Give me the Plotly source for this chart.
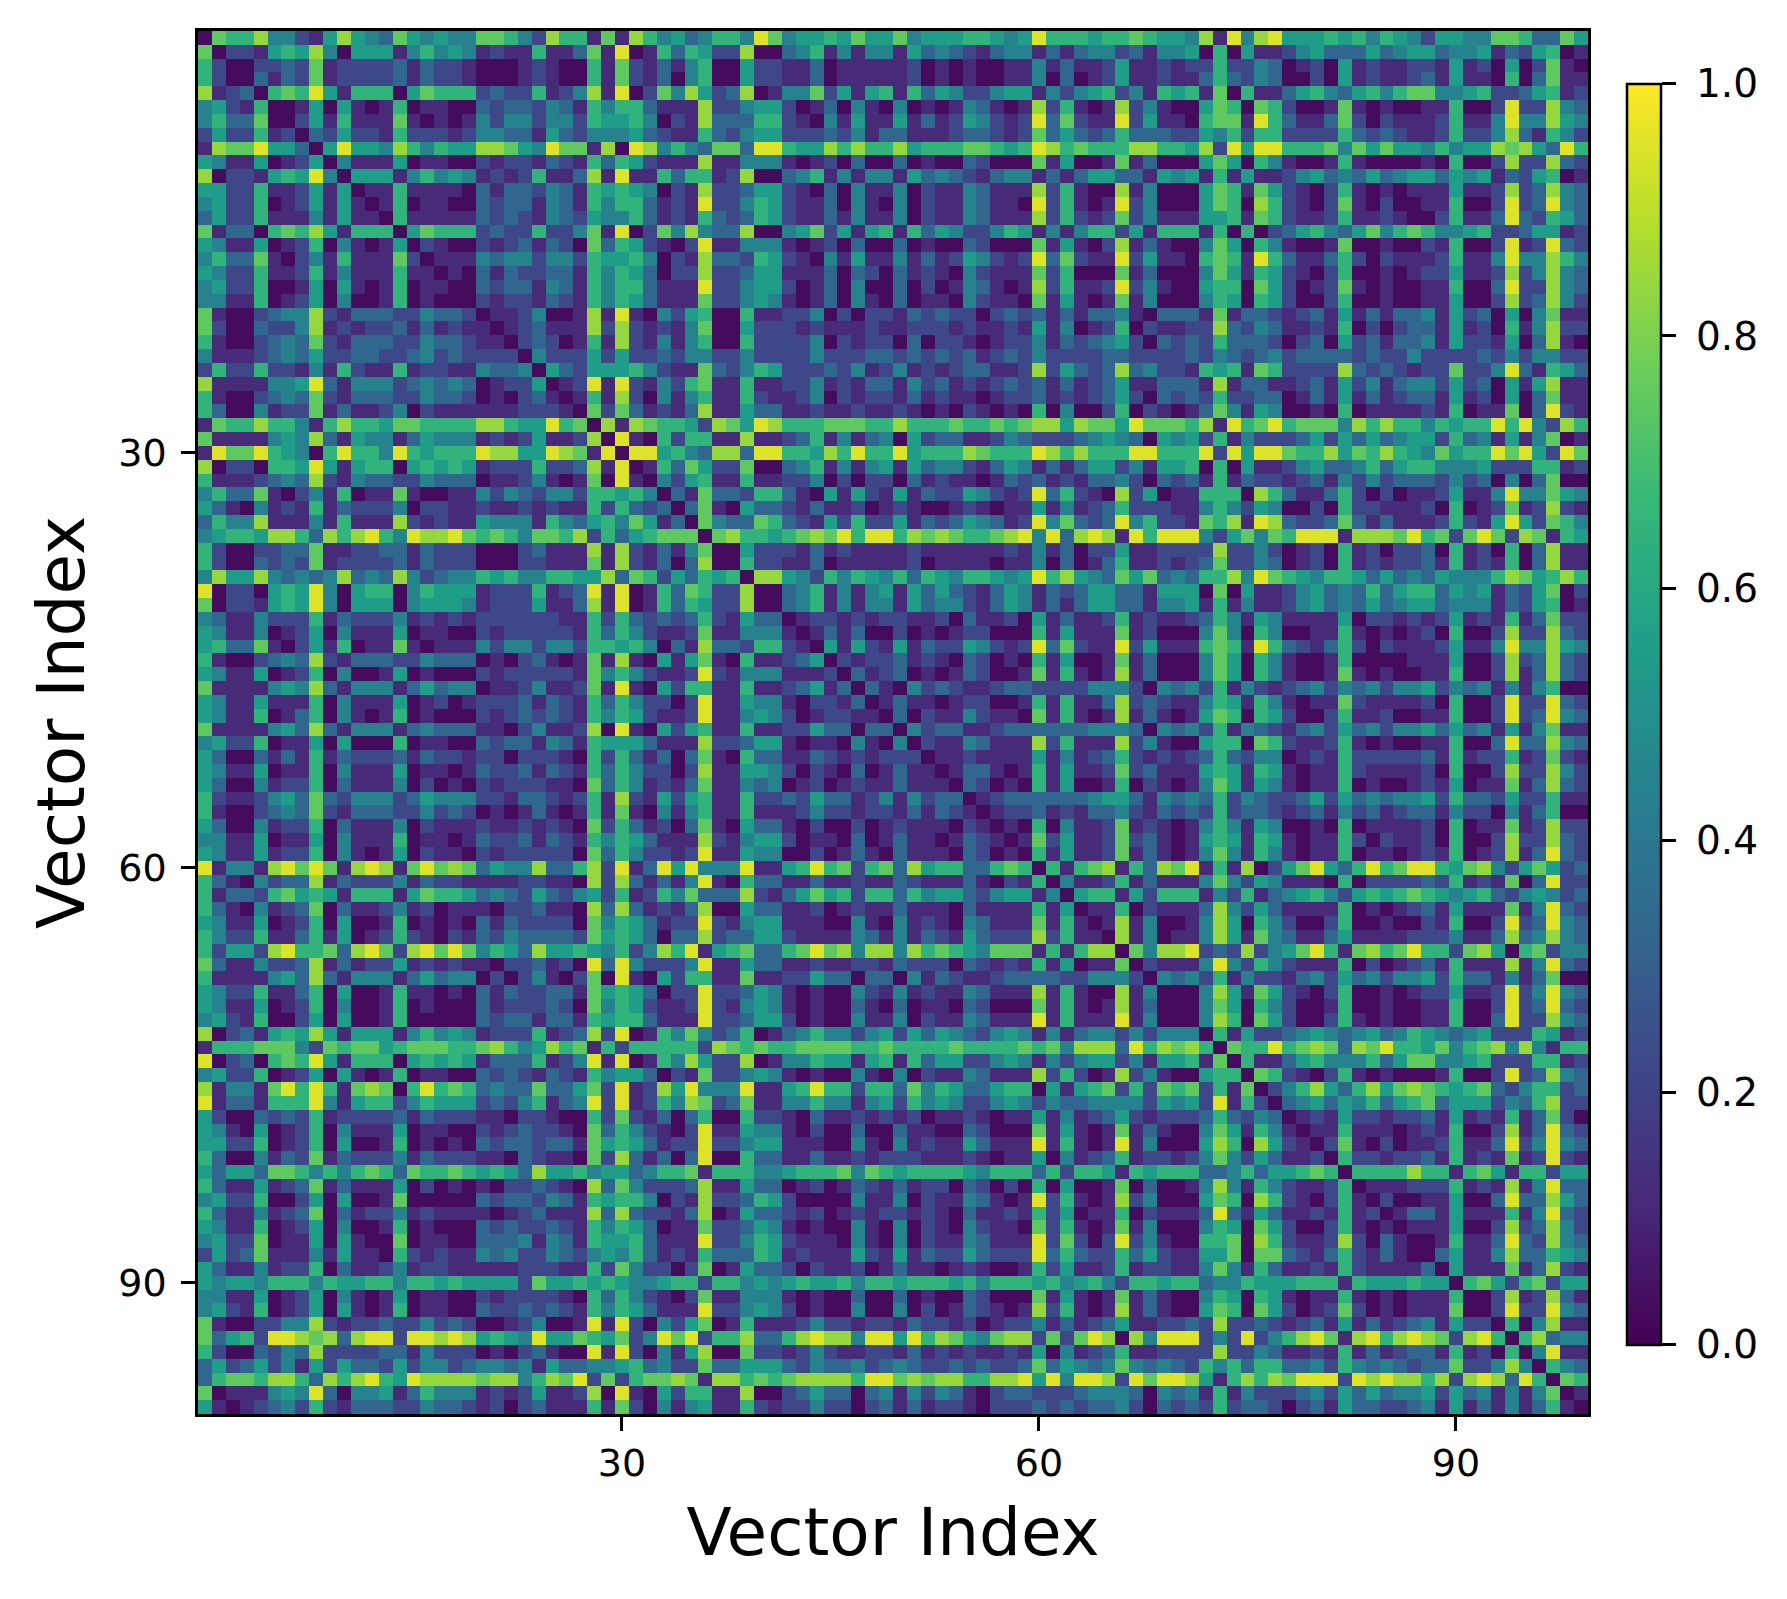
import numpy as np
import plotly.graph_objects as go

# The matrix is symmetric, so only cells from the diagonal rightwards are kept.
# Each digit is a colour band (0 = darkest, 9 = yellow).
# Row i of each list holds the cells of that row in one column span.

band_values = [0.03, 0.12, 0.22, 0.33, 0.45, 0.55, 0.65, 0.75, 0.84, 0.95]
tick_values = [30, 60, 90]

# columns 0-24
cols_0_24 = [
    "0766844215854375454477642", "022156584055514645412116", "00223271222231322100012",
    "0313271222231322100012", "067695166605766623226", "00150510160110032332",
    "0251611171010142442", "032522162221244331", "05955486465588754", "0411150110021221",
    "055514645412126", "01161111031332", "0160110032331", "061111132321", "05766623226",
    "0210021231", "011143442", "01031322", "0032331", "021221", "01124", "0123", "023", "04", "0",
]

# columns 25-49
cols_25_49 = [
    "8661718645346649745565755", "1137190163652280034614144", "1006172131460052211301111",
    "1006172130460052211301111", "1248190274852380144725156", "4316466311182245520130410",
    "4426556402183336621041511", "5324445321163245522232413", "9771809846437739965586866",
    "3216365211181144410120300", "1138191163661280034614144", "4316565402182235521030411",
    "4316466312192246521130410", "4325446312163236521131411", "2247190274843380045725156",
    "3207365210291144410120300", "4426556402183326521041511", "3316465302282235511130320",
    "4316466311192245520130400", "3216465311172245410130410", "0018191042560061122402022",
    "1118282121470052221211121", "2016182141460062222402122", "2225252232442242222422233",
    "5325556421173246522232412", "0129192142671161122412133", "016182041461162112402122",
    "07273121381153311211211", "0818766528759866677766", "091062661181123614134",
    "09956438839966586966", "0163752270034614145", "042561161122402022", "03173326631051521",
    "0371053321311201", "074337632152622", "07866567879699", "0052221312111", "062211301111",
    "08854264654", "0034614145", "034614144", "01221212", "0131300", "051521", "02122", "0312",
    "031", "01", "0",
]

# columns 50-74
cols_50_74 = [
    "7455566545966656676554819", "1534321344131344231445060", "1201010011413112511212262",
    "1201010011403012511211363", "1635422455142456241656170", "4010143101826101824100576",
    "5131254212937211925110677", "3111233212735323633322546", "8566677656986766688665829",
    "3010032000715001713000575", "1534321344131355331545161", "4021143111826100814000576",
    "4021143110926101924000576", "4021143111826212724111556", "1635422465141466251666160",
    "3010032000715102813100475", "4131254212937211925110676", "3121042111726000713000475",
    "3020143101826112924100566", "3011042110715101714000465", "1323220232313133410333171",
    "1222121121514012602112283", "0302210122413234520323263", "2323231232422223322223243",
    "4121233112825323834221656", "1423121232313123511333181", "1312110122312123520323262",
    "2101021010604002602101374", "8666766767885877597776819", "0523311243222345430545261",
    "9566687666986866699666929", "1534421354131355241556060", "0312110132312133420323161",
    "5132254212936210825011666", "2100121011514123622211464", "5132354312947323946221768",
    "6878766789493898196999425", "1211111121413022511222282", "1201111011403013611212372",
    "6365466545968543757343668", "1535321354132355331555070", "1534421354131355331445161",
    "2112031120513112612112364", "2010122000615111712000474", "5132254212937211925111676",
    "3121032010615001713000475", "3010132001716101813000475", "0423211233222244420434261",
    "3110122001616113823211465", "3021142110716101813101576", "0423311233333344430434261",
    "021143111826111824100566", "01121111514123621212363", "0133101615112723111565",
    "032010615001602101475", "01233333345531434362", "0122312133421323262",
    "010604112712101464", "01725112723101565", "0615112713101474", "061678163879161",
    "04112613111474", "0566152666142", "011602111384", "01814001485", "0814011485",
    "074889232", "02111494", "0434261", "000485", "00475", "0486", "061", "07", "0",
]

# columns 75-99
cols_75_99 = [
    "4895556564654255447763375", "5112453335345534451325601", "2430120512112215120502710",
    "2430020512112315110603711", "6113564356467744562235612", "0762001710100116002922843",
    "1963113720211126114944854", "2662222632321126224831642", "5996667475755464558785396",
    "0641001610000106002822832", "5112453435345535451325601", "1752102610101115112823843",
    "0862102710200116002923943", "1762112611210026113932653", "6023564357467644562235512",
    "0641001700100216002912932", "1963113620211126114944864", "1652102600101225112824843",
    "0752012710100116003922843", "0652002600100115002823842", "3321231513133415230504711",
    "2431121602023315120614822", "3320230523133415221503810", "2342333323224222232424422",
    "1762222832321227224931653", "3311231524134425230515811", "2330131513123315120503711",
    "1540010601111216011703921", "6796777486866465669694286", "4222352535345526341514701",
    "5997668576865475669795297", "5112453346356644452226612", "3221231424233324230403700",
    "0863113620201125114944754", "2540020622111206012712821", "1983223731311126215952764",
    "7476999188879672797287165", "2420120612022306120603811", "2430120612122316121603811",
    "4976546653534354446875686", "5112453436356635451325702", "4112453435345534441325601",
    "1541111502212125121613722", "0640011610101206002822832", "1963213620211125114944854",
    "0641001600001115002823832", "0641001710100116002813832", "4212342434244524341414600",
    "1641011721111206002922932", "0652002611200116002923943", "4321342534244535341514711",
    "0762112610100116003933843", "2440121622222316122612721", "1651011621111206002822842",
    "1541011601001215011713832", "4322352534344526332522611", "3321231423123314220413600",
    "1540010601111206011712822", "1651011620211206002822832", "1641011601101216012813932",
    "8025795369679965784257523", "2541110602222326121703922", "6134564256567654563245423",
    "2531111601012315111714932", "0642002600100216002923943", "1743113511112224113834843",
    "8245796178679662785067244", "2642111602012316111814932", "4221342534244526331413700",
    "1752102600101225112924943", "0642001600100116002923932", "0752002610100116003922843",
    "5223454345346543452226512", "6696787387966574678484166", "6113564446357744562226612",
    "0762102610100016002923843", "024685368578765673246623", "03453546356735552436822",
    "0121522122315121613720", "011611101216002813932", "02710201126113924943",
    "0622122316121712921", "066668661675166255", "01112226121814933", "0200115003933853",
    "013315111614932", "01115002823842", "0016113932843", "035114833654", "05111713821",
    "0675267255", "002812831", "02922943", "0604811", "068344", "04911", "0643", "076", "01", "0",
]

# ---------------------------------------------------
# BUILD THE MATRIX
# ---------------------------------------------------

n = 100
z = np.zeros((n, n))

for i in range(n):
    digits = ""
    for part in (cols_0_24, cols_25_49, cols_50_74, cols_75_99):
        if i < len(part):
            digits += part[i]
    for offset, ch in enumerate(digits):
        j = i + offset
        if j < n:
            z[i, j] = band_values[int(ch)]
            z[j, i] = band_values[int(ch)]

# ---------------------------------------------------
# FIGURE
# ---------------------------------------------------

fig = go.Figure(
    go.Heatmap(
        z=z,
        x=list(range(n)),
        y=list(range(n)),
        colorscale="Viridis",
        zmin=0,
        zmax=1,
        colorbar=dict(
            x=1.0283,
            xanchor="left",
            xref="paper",
            xpad=0,
            y=0.506,
            yanchor="middle",
            yref="paper",
            ypad=0,
            lenmode="pixels",
            len=1261,
            thicknessmode="pixels",
            thickness=34,
            outlinecolor="black",
            outlinewidth=2.5,
            tickmode="array",
            tickvals=[0, 0.2, 0.4, 0.6, 0.8, 1.0],
            # no-break space keeps the labels as far from the bar as the reference
            ticktext=["\u00a00.0", "\u00a00.2", "\u00a00.4", "\u00a00.6", "\u00a00.8", "\u00a01.0"],
            ticks="outside",
            ticklen=14,
            tickwidth=2.5,
            tickcolor="black",
            tickfont=dict(family="DejaVu Sans", size=39, color="black"),
        ),
    )
)

axis_style = dict(
    tickmode="array",
    tickvals=tick_values,
    ticktext=[str(v) for v in tick_values],
    ticks="outside",
    ticklen=14,
    tickwidth=2.5,
    tickcolor="black",
    tickfont=dict(family="DejaVu Sans", size=38, color="black"),
    showline=True,
    linecolor="black",
    linewidth=2.5,
    mirror=True,
    showgrid=False,
    zeroline=False,
    automargin=False,
)

fig.update_xaxes(
    range=[-0.5, 99.5],
    title=dict(text="Vector Index", font=dict(family="DejaVu Sans", size=66, color="black"), standoff=25),
    **axis_style,
)
fig.update_yaxes(
    range=[99.5, -0.5],
    ticklabelstandoff=7,
    title=dict(text="Vector Index", font=dict(family="DejaVu Sans", size=66, color="black"), standoff=13),
    **axis_style,
)

# the page adds an 8px body margin, so the plot area sits 8px in from the window
fig.update_layout(
    width=1787,
    height=1599,
    margin=dict(l=190, r=207, t=23, b=193),
    paper_bgcolor="white",
    plot_bgcolor="white",
)

fig.write_html("out.html")
